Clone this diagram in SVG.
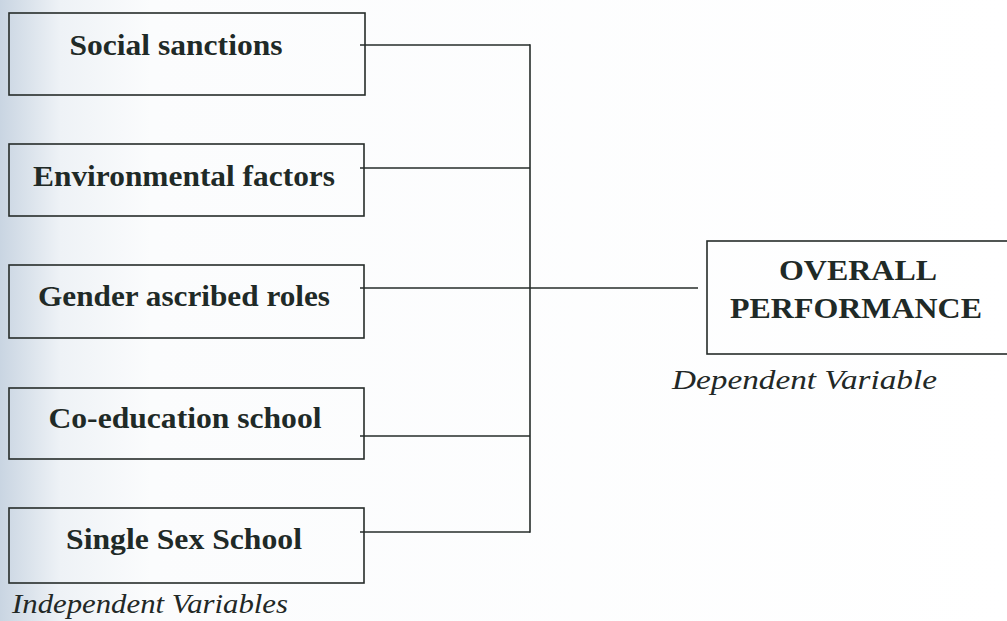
<svg xmlns="http://www.w3.org/2000/svg" width="1007" height="621" viewBox="0 0 1007 621">
  <defs>
    <linearGradient id="scan" x1="0" y1="0" x2="1" y2="0">
      <stop offset="0" stop-color="#c9d5e2"/>
      <stop offset="0.06" stop-color="#eef2f6"/>
      <stop offset="0.15" stop-color="#fbfcfd"/>
      <stop offset="1" stop-color="#ffffff"/>
    </linearGradient>
  </defs>
  <style>
    .box { fill: none; stroke: #262c2a; stroke-width: 1.6; }
    .conn { fill: none; stroke: #262c2a; stroke-width: 1.6; }
    .lbl { font-weight: bold; font-size: 30px; fill: #1f2a27; text-anchor: middle; }
    .cap { font-style: italic; font-size: 28px; fill: #222826; }
  </style>
  <rect x="0" y="0" width="1007" height="621" fill="url(#scan)"/>

  <g id="connectors">
    <line class="conn" x1="360" y1="45" x2="530" y2="45"/>
    <line class="conn" x1="360" y1="168" x2="530" y2="168"/>
    <line class="conn" x1="360" y1="288" x2="698" y2="288"/>
    <line class="conn" x1="360" y1="436" x2="530" y2="436"/>
    <line class="conn" x1="360" y1="532" x2="530" y2="532"/>
    <line class="conn" x1="530" y1="44.2" x2="530" y2="532.8"/>
  </g>

  <g font-family="Liberation Serif, Tinos, serif">
  <g id="node-social-sanctions">
    <rect class="box" x="9" y="13" width="356" height="82"/>
    <text class="lbl" x="176" y="55" textLength="213" lengthAdjust="spacingAndGlyphs">Social sanctions</text>
  </g>
  <g id="node-environmental-factors">
    <rect class="box" x="9" y="144" width="355" height="72"/>
    <text class="lbl" x="184" y="186" textLength="302" lengthAdjust="spacingAndGlyphs">Environmental factors</text>
  </g>
  <g id="node-gender-ascribed-roles">
    <rect class="box" x="9" y="265" width="355" height="73"/>
    <text class="lbl" x="184" y="306" textLength="292" lengthAdjust="spacingAndGlyphs">Gender ascribed roles</text>
  </g>
  <g id="node-co-education-school">
    <rect class="box" x="9" y="388" width="355" height="71"/>
    <text class="lbl" x="185" y="428" textLength="273" lengthAdjust="spacingAndGlyphs">Co-education school</text>
  </g>
  <g id="node-single-sex-school">
    <rect class="box" x="9" y="508" width="355" height="75"/>
    <text class="lbl" x="184" y="549" textLength="236" lengthAdjust="spacingAndGlyphs">Single Sex School</text>
  </g>
  <g id="node-overall-performance">
    <rect class="box" x="707" y="241" width="320" height="113"/>
    <text class="lbl" x="858" y="280" textLength="158" lengthAdjust="spacingAndGlyphs">OVERALL</text>
    <text class="lbl" x="856" y="318" textLength="252" lengthAdjust="spacingAndGlyphs">PERFORMANCE</text>
  </g>

  <text class="cap" x="12" y="613" textLength="276" lengthAdjust="spacingAndGlyphs">Independent Variables</text>
  <text class="cap" x="672" y="389" textLength="265" lengthAdjust="spacingAndGlyphs">Dependent Variable</text>
  </g>
</svg>
